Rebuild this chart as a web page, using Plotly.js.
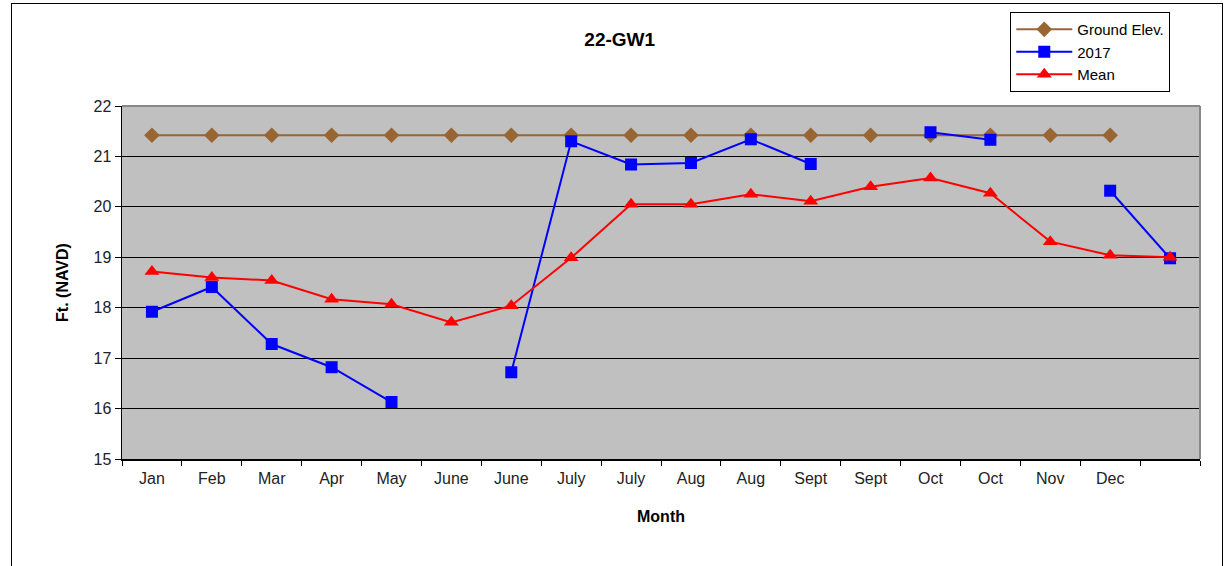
<!DOCTYPE html>
<html>
<head>
<meta charset="utf-8">
<script src="https://cdn.plot.ly/plotly-3.0.1.min.js"></script>
<style>
html,body{margin:0;padding:0;background:#fff;overflow:hidden;}
#frame{position:absolute;left:11px;top:3px;width:1210px;height:620px;border:1px solid #000;pointer-events:none;z-index:5;}
#chart{position:absolute;left:0;top:0;width:1232px;height:566px;}
</style>
</head>
<body>
<div id="chart"></div>
<div id="frame"></div>
<script>
const monthLabels = ["Jan","Feb","Mar","Apr","May","June","June","July","July","Aug","Aug","Sept","Sept","Oct","Oct","Nov","Dec",""];
const groundElev = [21.42,21.42,21.42,21.42,21.42,21.42,21.42,21.42,21.42,21.42,21.42,21.42,21.42,21.42,21.42,21.42,21.42,null];
const series2017 = [17.92,18.41,17.28,16.82,16.13,null,16.72,21.30,20.84,20.87,21.34,20.85,null,21.48,21.33,null,20.32,18.98];
const meanVals = [18.72,18.60,18.54,18.17,18.07,17.71,18.04,18.99,20.05,20.05,20.25,20.11,20.40,20.57,20.27,19.31,19.04,19.00];
const yTicks = [15,16,17,18,19,20,21,22];

const xIdx = monthLabels.map((_, i) => i);
const boundaries = monthLabels.map((_, i) => i - 0.5).concat([monthLabels.length - 0.5]);
const FAM = "Liberation Sans, Arial, sans-serif";

const traces = [
  {x: xIdx, y: groundElev, name: "Ground Elev.", mode: "lines+markers", type: "scatter",
   line: {color: "#996633", width: 2}, marker: {symbol: "diamond", size: 12, color: "#996633"}},
  {x: xIdx, y: series2017, name: "2017", mode: "lines+markers", type: "scatter", connectgaps: false,
   line: {color: "#0000FF", width: 2}, marker: {symbol: "square", size: 12, color: "#0000FF"}},
  {x: xIdx, y: meanVals, name: "Mean", mode: "lines+markers", type: "scatter",
   line: {color: "#FF0000", width: 2}, marker: {symbol: "triangle-up", size: 13, color: "#FF0000"}},
  {x: xIdx, y: meanVals, xaxis: "x2", mode: "none", type: "scatter", showlegend: false, hoverinfo: "skip"}
];

const layout = {
  width: 1232, height: 566,
  margin: {l: 122, r: 32, t: 106, b: 107},
  paper_bgcolor: "#fff", plot_bgcolor: "#C0C0C0",
  font: {family: FAM, size: 16, color: "#000"},
  showlegend: true,
  title: {text: "<b>22-GW1</b>", x: 0.503, xref: "container", xanchor: "center", y: 0.931, yref: "container", yanchor: "middle",
          font: {family: FAM, size: 19, color: "#000"}},
  xaxis: {
    range: [-0.5, monthLabels.length - 0.5], tickmode: "array", tickvals: boundaries,
    ticktext: boundaries.map(() => ""), ticks: "outside", ticklen: 5, tickcolor: "#000",
    showgrid: false, zeroline: false, showline: true, linecolor: "#000", linewidth: 1.5,
    title: {text: "<b>Month</b>", font: {family: FAM, size: 16, color: "#000"}, standoff: 43},
    fixedrange: true
  },
  xaxis2: {
    overlaying: "x", matches: "x", range: [-0.5, monthLabels.length - 0.5], side: "bottom",
    tickmode: "array", tickvals: xIdx, ticktext: monthLabels, ticks: "", showgrid: false,
    zeroline: false, showline: false, ticklabelstandoff: 8,
    tickfont: {family: FAM, size: 16, color: "#222"}
  },
  yaxis: {
    range: [15, 22], tickmode: "array", tickvals: yTicks, ticks: "outside", ticklen: 6, tickcolor: "#000",
    showgrid: true, gridcolor: "#000", gridwidth: 1, zeroline: false, showline: true, linecolor: "#000", linewidth: 1.5,
    tickfont: {family: FAM, size: 16, color: "#222"},
    title: {text: "<b>Ft. (NAVD)</b>", font: {family: FAM, size: 16, color: "#000"}, standoff: 21},
    fixedrange: true
  },
  legend: {x: 0.824, xanchor: "left", y: 1.266, yanchor: "top", bgcolor: "#fff", bordercolor: "#000", borderwidth: 1,
           font: {family: FAM, size: 15, color: "#000"}, tracegroupgap: 0, itemwidth: 56},
  shapes: [
    {type: "line", xref: "paper", yref: "paper", x0: 0, x1: 1, y0: 1, y1: 1, line: {color: "#888", width: 2}},
    {type: "line", xref: "paper", yref: "paper", x0: 1, x1: 1, y0: 0, y1: 1, line: {color: "#888", width: 2}}
  ]
};

Plotly.newPlot("chart", traces, layout, {displayModeBar: false, staticPlot: true});
</script>
</body>
</html>
